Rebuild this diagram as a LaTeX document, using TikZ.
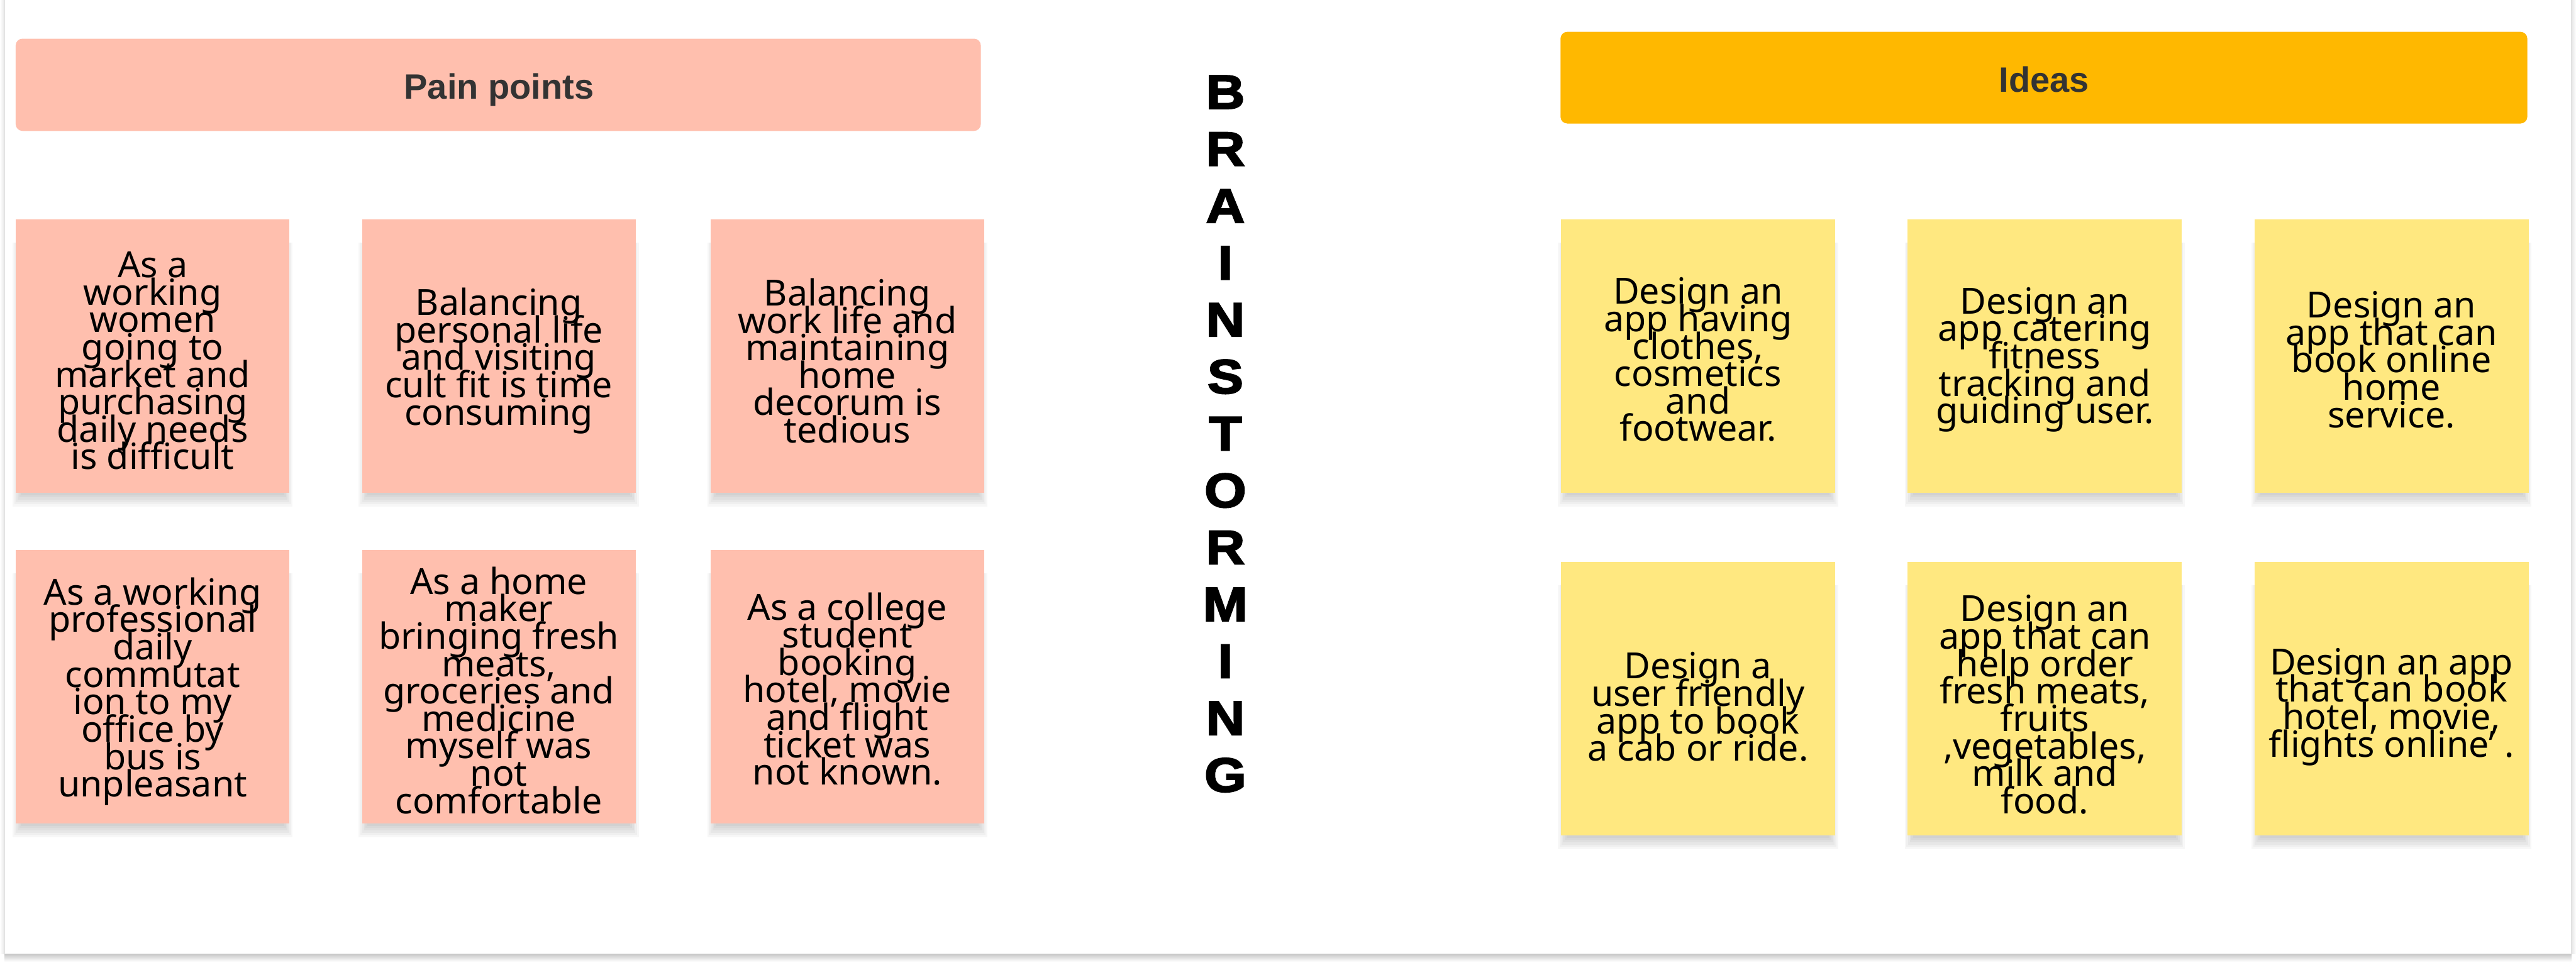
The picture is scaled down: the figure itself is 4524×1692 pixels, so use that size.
\documentclass[tikz,border=0pt]{standalone}
\usepackage{fontspec}
\setmainfont{Noto Sans}
\newfontfamily\letterfont{Liberation Sans}[BoldFeatures={FakeBold=3,FakeStretch=1.12}]
\newfontfamily\headfont{Liberation Sans}
\usetikzlibrary{calc}
\definecolor{pinkbox}{HTML}{FFBFAE}
\definecolor{yellowbox}{HTML}{FFE880}
\definecolor{amberbox}{HTML}{FFB800}
\definecolor{headtext}{HTML}{333333}
\newcommand\stickyfont{\fontsize{18pt}{13.7pt}\selectfont\lineskiplimit=-100pt\lineskip=0pt}
\newcommand\softshadow[2]{%
  \foreach \s in {1,...,6}
    \fill[black, opacity=0.032] (#1-228-3*\s, #2-200) rectangle (#1+228+3*\s, #2+240+4*\s);}
\tikzset{
  stickybox/.style={rectangle, minimum width=4.80cm, minimum height=4.80cm, inner sep=0pt},
  pain/.style={stickybox, fill=pinkbox},
  idea/.style={stickybox, fill=yellowbox, minimum width=4.81cm},
  stickytext/.style={inner sep=0pt, align=center, font=\stickyfont, text=black},
  headbox/.style={rectangle, rounded corners=0.12cm, inner sep=0pt},
  headlabel/.style={inner sep=0pt, anchor=base, text=headtext,
    font=\headfont\bfseries\fontsize{17.6pt}{20pt}\selectfont},
  letter/.style={inner sep=0pt, anchor=base, text=black,
    font=\letterfont\bfseries\fontsize{24pt}{26pt}\selectfont}
}
\begin{document}
\begin{tikzpicture}[x=0.01cm, y=-0.01cm]
\useasboundingbox (0,0) rectangle (4524,1692);
% frame
\shade[top color=black!22, bottom color=white] (8,1676) rectangle (4516,1690);
\shade[left color=white, right color=black!10] (0,0) rectangle (8,1676);
\shade[left color=black!10, right color=white] (4516,0) rectangle (4524,1676);
\fill[white] (8,0) rectangle (4516,1676);
\draw[black!12, line width=0.4pt] (8,0) -- (8,1676) -- (4516,1676) -- (4516,0);
% headers
\node[headbox, fill=pinkbox, minimum width=16.94cm, minimum height=1.62cm] (painhead) at (875,149) {};
\node[headlabel] (painlabel) at (876.5,174) {Pain points};
\node[headbox, fill=amberbox, minimum width=16.97cm, minimum height=1.61cm] (ideahead) at (3589.5,136.5) {};
\node[headlabel] (idealabel) at (3590,162) {Ideas};
% shadows
\softshadow{268}{626}\softshadow{876}{626}\softshadow{1488}{626}
\softshadow{268}{1207}\softshadow{876}{1207}\softshadow{1488}{1207}
\softshadow{2982}{626}\softshadow{3591}{626}\softshadow{4200}{626}
\softshadow{2982}{1228}\softshadow{3591}{1228}\softshadow{4200}{1228}
% pain points
\node[pain] (p1) at (268,626) {};
\node[pain] (p2) at (876,626) {};
\node[pain] (p3) at (1488,626) {};
\node[pain] (p4) at (268,1207) {};
\node[pain] (p5) at (876,1207) {};
\node[pain] (p6) at (1488,1207) {};
\node[stickytext] (p1t) at ($(p1.center)+(0,8)$) {As a\\working\\women\\going to\\market and\\purchasing\\daily needs\\is difficult};
\node[stickytext] (p2t) at ($(p2.center)+(0,8)$) {Balancing\\personal life\\and visiting\\cult fit is time\\consuming};
\node[stickytext] (p3t) at ($(p3.center)+(0,8)$) {Balancing\\work life and\\maintaining\\home\\decorum is\\tedious};
\node[stickytext] (p4t) at ($(p4.center)+(0,8)$) {As a working\\professional\\daily\\commutat\\ion to my\\office by\\bus is\\unpleasant};
\node[stickytext] (p5t) at ($(p5.center)+(0,6)$) {As a home\\maker\\bringing fresh\\meats,\\groceries and\\medicine\\myself was\\not\\comfortable};
\node[stickytext] (p6t) at ($(p6.center)+(0,4)$) {As a college\\student\\booking\\hotel, movie\\and flight\\ticket was\\not known.};
% ideas
\node[idea] (i1) at (2982,626) {};
\node[idea] (i2) at (3591,626) {};
\node[idea] (i3) at (4200,626) {};
\node[idea] (i4) at (2982,1228) {};
\node[idea] (i5) at (3591,1228) {};
\node[idea] (i6) at (4200,1228) {};
\node[stickytext] (i1t) at ($(i1.center)+(0,6)$) {Design an\\app having\\clothes,\\cosmetics\\and\\footwear.};
\node[stickytext] (i2t) at ($(i2.center)+(0,6)$) {Design an\\app catering\\fitness\\tracking and\\guiding user.};
\node[stickytext] (i3t) at ($(i3.center)+(0,6)$) {Design an\\app that can\\book online\\home\\service.};
\node[stickytext] (i4t) at ($(i4.center)+(0,14)$) {Design a\\user friendly\\app to book\\a cab or ride.};
\node[stickytext] (i5t) at ($(i5.center)+(0,10)$) {Design an\\app that can\\help order\\fresh meats,\\fruits\\,vegetables,\\milk and\\food.};
\node[stickytext] (i6t) at ($(i6.center)+(0,14)$) {Design an app\\that can book\\hotel, movie,\\flights online’ .};
% vertical title
\foreach \l [count=\k from 0] in {B,R,A,I,N,S,T,O,R,M,I,N,G}
  \node[letter] (L\k) at (2152, 191+100*\k) {\l};
\end{tikzpicture}
\end{document}
